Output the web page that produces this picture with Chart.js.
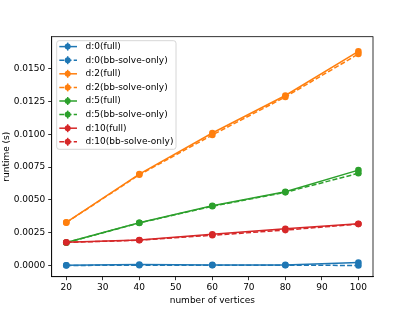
<!DOCTYPE html>
<html>
<head>
<meta charset="utf-8">
<script src="https://cdn.jsdelivr.net/npm/chart.js@4/dist/chart.umd.min.js"></script>
<style>
  html, body { margin: 0; padding: 0; background: #fff; }
  #wrap { width: 415px; height: 311px; }
</style>
</head>
<body>
<div id="wrap"><canvas id="runtime"></canvas></div>
<script>
// x 값 (정점 수)
var vertices = [20, 40, 60, 80, 100];
var xTicks = [20, 30, 40, 50, 60, 70, 80, 90, 100];
var yTicks = [0, 0.0025, 0.005, 0.0075, 0.01, 0.0125, 0.015];

// 런타임 (s)
var d0Full  = [0.00002, 0.00008, 0.00005, 0.00005, 0.00023];
var d0Solve = [0.00001, 0.00002, 0.00002, 0.00002, 0.00001];
var d2Full  = [0.00329, 0.00697, 0.01010, 0.01296, 0.01632];
var d2Solve = [0.00327, 0.00692, 0.00995, 0.01285, 0.01612];
var d5Full  = [0.00175, 0.00326, 0.00456, 0.00562, 0.00727];
var d5Solve = [0.00174, 0.00325, 0.00452, 0.00558, 0.00703];
var d10Full = [0.00177, 0.00195, 0.00238, 0.00280, 0.00318];
var d10Solve= [0.00176, 0.00193, 0.00231, 0.00270, 0.00316];

var labels = ['d:0(full)', 'd:0(bb-solve-only)', 'd:2(full)', 'd:2(bb-solve-only)',
              'd:5(full)', 'd:5(bb-solve-only)', 'd:10(full)', 'd:10(bb-solve-only)'];
var series = [d0Full, d0Solve, d2Full, d2Solve, d5Full, d5Solve, d10Full, d10Solve];
var colors = ['#1f77b4', '#1f77b4', '#ff7f0e', '#ff7f0e', '#2ca02c', '#2ca02c', '#d62728', '#d62728'];
var dash = [5, 2.2];

var datasets = [];
for (var i = 0; i < series.length; i++) {
  datasets.push({
    label: labels[i],
    data: vertices.map(function(x, j){ return {x: x, y: series[i][j]}; }),
    borderColor: colors[i],
    backgroundColor: colors[i],
    borderWidth: 1.5,
    borderDash: (i % 2 == 1) ? dash : [],
    pointRadius: 3.3,
    pointBorderWidth: 0,
    pointHoverRadius: 3.3,
    tension: 0,
    order: series.length - i   // 나중 것이 위에 그려지도록
  });
}

var font = 'DejaVu Sans';

// 사각 테두리 + 범례 직접 그리기
var boxPlugin = {
  id: 'box',
  afterDraw: function(chart){
    var ctx = chart.ctx, a = chart.chartArea;
    ctx.save();
    ctx.strokeStyle = '#000';
    ctx.lineWidth = 0.8;
    ctx.strokeRect(a.left, a.top, a.right - a.left, a.bottom - a.top);

    // 범례
    var lx = 56.7, ly = 40.7, lw = 119.3, lh = 108.6;
    ctx.beginPath();
    ctx.roundRect(lx, ly, lw, lh, 2.5);
    ctx.fillStyle = 'rgba(255,255,255,0.8)';
    ctx.fill();
    ctx.strokeStyle = '#cccccc';
    ctx.lineWidth = 0.8;
    ctx.stroke();

    ctx.font = '9px "' + font + '"';
    ctx.textBaseline = 'middle';
    ctx.textAlign = 'left';
    for (var i = 0; i < labels.length; i++) {
      var y = 46.6 + i * 13.6;
      ctx.strokeStyle = colors[i];
      ctx.fillStyle = colors[i];
      ctx.lineWidth = 1.5;
      ctx.setLineDash(i % 2 == 1 ? dash : []);
      ctx.beginPath();
      ctx.moveTo(59.3, y);
      ctx.lineTo(77, y);
      ctx.stroke();
      ctx.setLineDash([]);
      ctx.beginPath();
      ctx.moveTo(67.7, y - 4);
      ctx.lineTo(67.7, y + 4);
      ctx.stroke();
      ctx.beginPath();
      ctx.arc(67.7, y, 3, 0, Math.PI * 2);
      ctx.fill();
      ctx.fillStyle = '#000';
      ctx.fillText(labels[i], 85.5, y);
    }
    ctx.restore();
  }
};

new Chart(document.getElementById('runtime'), {
  type: 'line',
  data: { datasets: datasets },
  plugins: [boxPlugin],
  options: {
    responsive: true,
    maintainAspectRatio: false,
    animation: false,
    layout: { padding: { left: 0, right: 42, top: 36.7, bottom: 0 } },
    plugins: {
      legend: { display: false },
      tooltip: { enabled: false }
    },
    scales: {
      x: {
        type: 'linear',
        min: 16,
        max: 104,
        afterBuildTicks: function(s){ s.ticks = xTicks.map(function(v){ return {value: v}; }); },
        afterFit: function(s){ s.height = 34.3; },
        grid: { drawOnChartArea: false, drawTicks: true, tickLength: 3.5, tickColor: '#000', tickWidth: 0.8 },
        border: { display: true, color: '#000', width: 0.8 },
        ticks: { color: '#000', font: { family: font, size: 9 }, padding: 2.5, maxRotation: 0 },
        title: { display: true, text: 'number of vertices', color: '#000',
                 font: { family: font, size: 9 }, padding: { top: 0, bottom: 5 } }
      },
      y: {
        type: 'linear',
        min: -0.00085,
        max: 0.01744,
        afterBuildTicks: function(s){ s.ticks = yTicks.map(function(v){ return {value: v}; }); },
        afterFit: function(s){ s.width = 51.7; },
        grid: { drawOnChartArea: false, drawTicks: true, tickLength: 3.5, tickColor: '#000', tickWidth: 0.8 },
        border: { display: true, color: '#000', width: 0.8 },
        ticks: { color: '#000', font: { family: font, size: 9 }, padding: 3,
                 callback: function(v){ return v.toFixed(4); } },
        title: { display: true, text: 'runtime (s)', color: '#000',
                 font: { family: font, size: 9 }, padding: { top: 1, bottom: 0 } }
      }
    }
  }
});
</script>
</body>
</html>
